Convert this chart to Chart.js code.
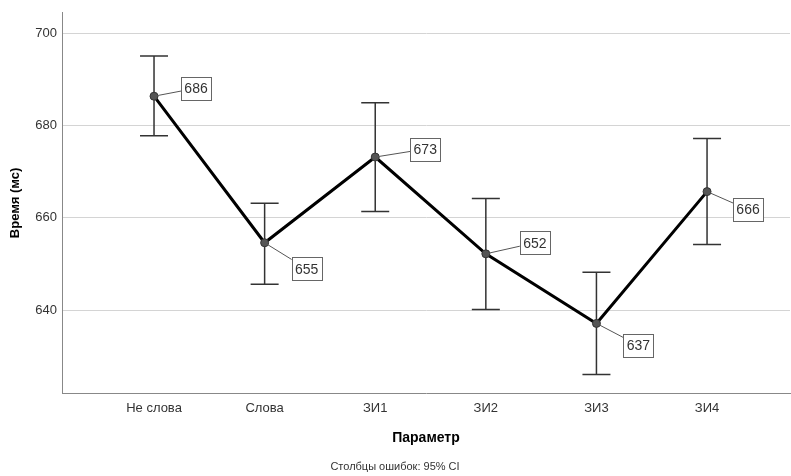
<!DOCTYPE html>
<html>
<head>
<meta charset="utf-8">
<script src="https://cdn.jsdelivr.net/npm/chart.js@4/dist/chart.umd.min.js"></script>
<style>
  html, body { margin: 0; padding: 0; background: #fff; }
  #wrap { width: 791px; height: 476px; }
</style>
</head>
<body>
<div id="wrap"><canvas id="myChart"></canvas></div>
<script>
const categories = ['Не слова', 'Слова', 'ЗИ1', 'ЗИ2', 'ЗИ3', 'ЗИ4'];
const means = [686.4, 654.6, 673.2, 652.2, 637.1, 665.7];
const ciUpper = [695.1, 663.2, 685.0, 664.2, 648.2, 677.2];
const ciLower = [677.8, 645.6, 661.4, 640.1, 626.0, 654.2];
const yTicks = [640, 660, 680, 700];

// where each value box sits, relative to its point (px)
const labelOffsets = [[42, -8], [42, 26], [50, -8], [49, -11], [42, 22], [41, 18]];

const fontFamily = '"Liberation Sans", Arial, sans-serif';
const myChartElement = document.getElementById('myChart');

const errorBars = {
  id: 'errorBars',
  beforeDatasetsDraw(chart) {
    const ctx = chart.ctx;
    const x = chart.scales.x, y = chart.scales.y;
    ctx.save();
    ctx.strokeStyle = '#333';
    ctx.lineWidth = 1.5;
    means.forEach((m, i) => {
      const px = x.getPixelForValue(i);
      const top = y.getPixelForValue(ciUpper[i]);
      const bottom = y.getPixelForValue(ciLower[i]);
      ctx.beginPath();
      ctx.moveTo(px, top); ctx.lineTo(px, bottom);
      ctx.moveTo(px - 14, top); ctx.lineTo(px + 14, top);
      ctx.moveTo(px - 14, bottom); ctx.lineTo(px + 14, bottom);
      ctx.stroke();
    });
    ctx.restore();
  },
  afterDatasetsDraw(chart) {
    const ctx = chart.ctx;
    const meta = chart.getDatasetMeta(0);
    ctx.save();
    ctx.font = '14px ' + fontFamily;
    ctx.textAlign = 'center';
    ctx.textBaseline = 'middle';
    meta.data.forEach((pt, i) => {
      const cx = pt.x + labelOffsets[i][0];
      const cy = pt.y + labelOffsets[i][1];
      const w = 30, h = 23;
      ctx.strokeStyle = '#555';
      ctx.lineWidth = 1;
      ctx.beginPath();
      ctx.moveTo(pt.x, pt.y);
      ctx.lineTo(cx, cy);
      ctx.stroke();
      ctx.fillStyle = '#fff';
      ctx.fillRect(cx - w / 2, cy - h / 2, w, h);
      ctx.strokeStyle = '#666';
      ctx.strokeRect(Math.round(cx - w / 2) + 0.5, Math.round(cy - h / 2) + 0.5, w, h);
      ctx.fillStyle = '#333';
      ctx.fillText(String(Math.round(means[i])), cx, cy + 1);
    });
    ctx.restore();
  }
};

let myChart = new Chart(myChartElement, {
  type: 'line',
  data: {
    datasets: [{
      data: means.map((m, i) => ({ x: i, y: m })),
      borderColor: '#000',
      borderWidth: 3,
      tension: 0,
      pointRadius: 4,
      pointBackgroundColor: '#555',
      pointBorderColor: '#333',
      pointBorderWidth: 1
    }]
  },
  options: {
    responsive: true,
    maintainAspectRatio: false,
    animation: false,
    layout: { autoPadding: false, padding: { top: 10, right: 1, left: 0, bottom: 0 } },
    plugins: {
      legend: { display: false },
      tooltip: { enabled: false },
      subtitle: {
        display: true,
        position: 'bottom',
        text: 'Столбцы ошибок: 95% CI',
        color: '#333',
        font: { family: fontFamily, size: 11 },
        padding: { top: 6, bottom: 2 }
      }
    },
    scales: {
      x: {
        type: 'linear',
        min: -0.832,
        max: 5.75,
        afterBuildTicks: (scale) => { scale.ticks = categories.map((c, i) => ({ value: i })); },
        afterFit: (scale) => {
          scale.height = 61.8;
          scale.paddingLeft = 0;
          scale.paddingRight = 0;
        },
        ticks: {
          callback: (v) => categories[v],
          color: '#333',
          font: { family: fontFamily, size: 13 },
          padding: 8,
          maxRotation: 0,
          autoSkip: false
        },
        grid: { display: false, drawTicks: false },
        border: { display: true, color: '#888', width: 1 },
        title: {
          display: true,
          text: 'Параметр',
          color: '#000',
          font: { family: fontFamily, size: 14, weight: 'bold' },
          padding: { top: 0, bottom: 8.4 }
        }
      },
      y: {
        min: 622,
        max: 704.5,
        afterBuildTicks: (scale) => { scale.ticks = yTicks.map(v => ({ value: v })); },
        afterFit: (scale) => { scale.width = 62; },
        ticks: {
          color: '#333',
          font: { family: fontFamily, size: 13 },
          padding: 5
        },
        grid: { color: '#d4d4d4', lineWidth: 1, drawTicks: false },
        border: { display: true, color: '#888', width: 1 },
        title: {
          display: true,
          text: 'Время (мс)',
          color: '#000',
          font: { family: fontFamily, size: 13, weight: 'bold' },
          padding: { top: 7.2, bottom: 0 }
        }
      }
    }
  },
  plugins: [errorBars]
});
</script>
</body>
</html>
